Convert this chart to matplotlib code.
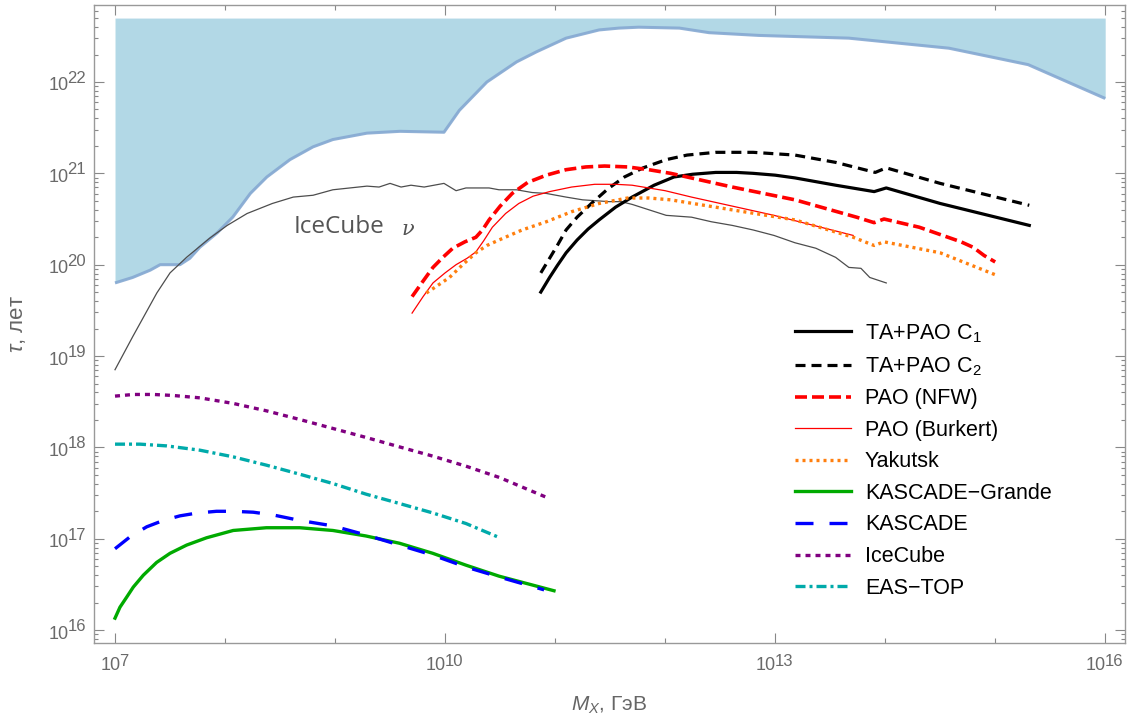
import numpy as np
import matplotlib
matplotlib.use('Agg')
import matplotlib.pyplot as plt
from matplotlib.ticker import FixedLocator, LogLocator, NullFormatter
from matplotlib.transforms import blended_transform_factory, ScaledTranslation

plt.rcParams['font.family'] = ['Liberation Sans', 'DejaVu Sans']
plt.rcParams['mathtext.fontset'] = 'custom'
plt.rcParams['mathtext.rm'] = 'Liberation Sans'
plt.rcParams['mathtext.it'] = 'Liberation Sans:italic'
plt.rcParams['lines.scale_dashes'] = False

# все значения: lg(M_X / ГэВ), lg(tau / лет)
ic_bound_x = [7.0, 7.16, 7.32, 7.41, 7.59, 7.68, 7.77, 7.93, 8.07, 8.23, 8.38, 8.59, 8.80, 8.98,
              9.29, 9.59, 9.99, 10.13, 10.38, 10.65, 10.83, 11.10, 11.40, 11.58, 11.76, 12.13,
              12.40, 12.85, 13.67, 14.58, 15.30, 16.0]
ic_bound_y = [19.80, 19.86, 19.94, 20.0, 20.0, 20.07, 20.19, 20.35, 20.52, 20.78, 20.96, 21.15, 21.29, 21.37,
              21.44, 21.46, 21.45, 21.69, 22.0, 22.22, 22.33, 22.48, 22.57, 22.59, 22.60, 22.59,
              22.54, 22.51, 22.48, 22.37, 22.19, 21.82]
ic_top = 22.70

nu_x = [7.0, 7.16, 7.38, 7.50, 7.65, 7.86, 8.02, 8.20, 8.43, 8.62, 8.80, 8.98, 9.29, 9.40, 9.50, 9.60,
        9.69, 9.81, 9.99, 10.10, 10.19, 10.40, 10.49, 10.65, 10.79, 10.92, 11.10, 11.25, 11.49, 11.60,
        11.70, 12.01, 12.24, 12.42, 12.61, 12.80, 12.99, 13.18, 13.37, 13.55, 13.67, 13.78, 13.86, 14.01]
nu_y = [18.85, 19.21, 19.69, 19.91, 20.08, 20.29, 20.43, 20.56, 20.67, 20.74, 20.76, 20.82, 20.86, 20.85, 20.89, 20.85,
        20.87, 20.85, 20.89, 20.81, 20.84, 20.84, 20.82, 20.82, 20.79, 20.78, 20.74, 20.71, 20.69, 20.69,
        20.66, 20.54, 20.52, 20.47, 20.43, 20.38, 20.32, 20.24, 20.18, 20.08, 19.97, 19.96, 19.86, 19.80]

c1_x = [10.87, 10.95, 11.02, 11.10, 11.20, 11.30, 11.40, 11.55, 11.70, 11.90, 12.08, 12.25, 12.46, 12.65,
        12.80, 13.0, 13.18, 13.55, 13.90, 14.01, 14.50, 15.31]
c1_y = [19.70, 19.86, 19.99, 20.13, 20.27, 20.39, 20.49, 20.63, 20.74, 20.87, 20.96, 20.99, 21.01, 21.01,
        21.00, 20.98, 20.95, 20.87, 20.80, 20.84, 20.67, 20.43]

c2_x = [10.87, 10.95, 11.02, 11.10, 11.20, 11.33, 11.48, 11.63, 11.80, 12.01, 12.20, 12.46, 12.80, 13.18,
        13.55, 13.91, 14.01, 14.50, 15.31]
c2_y = [19.91, 20.07, 20.21, 20.38, 20.52, 20.67, 20.83, 20.96, 21.06, 21.15, 21.20, 21.23, 21.23, 21.20,
        21.12, 21.01, 21.06, 20.89, 20.65]

nfw_x = [9.70, 9.80, 9.89, 9.98, 10.07, 10.18, 10.28, 10.34, 10.40, 10.50, 10.61, 10.75, 10.92, 11.10,
         11.28, 11.45, 11.66, 11.85, 12.05, 12.61, 13.18, 13.74, 13.90, 13.99, 14.31, 14.69, 14.80,
         14.90, 15.0]
nfw_y = [19.65, 19.82, 19.97, 20.08, 20.18, 20.25, 20.30, 20.38, 20.49, 20.64, 20.78, 20.90, 20.98, 21.04,
         21.07, 21.08, 21.07, 21.04, 21.00, 20.85, 20.71, 20.52, 20.46, 20.50, 20.41, 20.25, 20.19,
         20.10, 20.03]

bur_x = [9.70, 9.80, 9.89, 10.0, 10.10, 10.20, 10.28, 10.35, 10.43, 10.55, 10.67, 10.80, 10.95, 11.15,
         11.36, 11.55, 11.70, 12.0, 12.24, 12.99, 13.71]
bur_y = [19.47, 19.65, 19.80, 19.91, 20.00, 20.07, 20.14, 20.26, 20.41, 20.56, 20.67, 20.75, 20.80, 20.85,
         20.88, 20.88, 20.87, 20.81, 20.74, 20.54, 20.32]

yak_x = [9.83, 9.93, 10.04, 10.16, 10.28, 10.38, 10.49, 10.70, 10.92, 11.15, 11.40, 11.66, 11.85, 12.05,
         12.61, 13.18, 13.71, 13.90, 13.99, 14.50, 15.0]
yak_y = [19.69, 19.77, 19.86, 20.00, 20.13, 20.21, 20.27, 20.38, 20.47, 20.58, 20.67, 20.73, 20.73, 20.71,
         20.60, 20.49, 20.30, 20.21, 20.25, 20.13, 19.89]

kg_x = [7.0, 7.045, 7.106, 7.166, 7.257, 7.378, 7.50, 7.651, 7.832, 8.074, 8.376, 8.679, 8.98, 9.28,
        9.586, 9.888, 10.19, 10.49, 10.99]
kg_y = [16.13, 16.25, 16.36, 16.47, 16.60, 16.74, 16.84, 16.93, 17.01, 17.09, 17.12, 17.12, 17.09, 17.03,
        16.95, 16.84, 16.71, 16.59, 16.43]

kas_x = [7.0, 7.136, 7.288, 7.439, 7.59, 7.741, 7.923, 8.074, 8.256, 8.437, 8.679, 8.98, 9.283, 9.586,
         9.888, 10.19, 10.494, 10.90]
kas_y = [16.89, 17.02, 17.13, 17.20, 17.25, 17.28, 17.30, 17.30, 17.29, 17.26, 17.20, 17.14, 17.04, 16.93,
         16.82, 16.69, 16.58, 16.44]

icu_x = [7.0, 7.166, 7.348, 7.529, 7.771, 8.074, 8.376, 8.679, 8.98, 9.283, 9.586, 9.888, 10.19, 10.494,
         10.947]
icu_y = [18.561, 18.579, 18.579, 18.568, 18.542, 18.481, 18.40, 18.305, 18.207, 18.108, 18.005, 17.904,
         17.794, 17.67, 17.44]

eas_x = [7.0, 7.227, 7.469, 7.771, 8.074, 8.376, 8.679, 8.98, 9.283, 9.586, 9.888, 10.19, 10.478]
eas_y = [18.035, 18.035, 18.016, 17.969, 17.896, 17.805, 17.706, 17.604, 17.487, 17.385, 17.282, 17.166,
         17.02]

x_ticks = [7, 10, 13, 16]
y_ticks = [16, 17, 18, 19, 20, 21, 22]


def p(v):
    return np.power(10.0, np.array(v, dtype=float))


fig = plt.figure(figsize=(11.29, 7.19), dpi=100)
ax = fig.add_axes([94 / 1129, 1 - 643 / 719, 1031 / 1129, 638 / 719])

ax.fill_between(p(ic_bound_x), p(ic_bound_y), 10 ** ic_top, color='#b2d8e6', lw=0)
ax.plot(p(ic_bound_x), p(ic_bound_y), color='#86a9d2', lw=2.2, alpha=0.9, solid_capstyle='butt')
ax.plot(p(nu_x), p(nu_y), color='#4d4d4d', lw=0.9)

px = 0.72  # pt на пиксель
ax.plot(p(c1_x), p(c1_y), color='black', lw=2.3, label='TA+PAO C$_1$')
ax.plot(p(c2_x), p(c2_y), color='black', lw=2.3, dashes=(10 * px, 6 * px), label='TA+PAO C$_2$')
ax.plot(p(nfw_x), p(nfw_y), color='#ff0000', lw=2.6, dashes=(12 * px, 5 * px), label='PAO (NFW)')
ax.plot(p(bur_x), p(bur_y), color='#ff0000', lw=0.9, label='PAO (Burkert)')
ax.plot(p(yak_x), p(yak_y), color='#ff7f0e', lw=2.4, dashes=(3 * px, 4 * px), label='Yakutsk')
ax.plot(p(kg_x), p(kg_y), color='#00aa00', lw=2.4, label='KASCADE\u2212Grande')
ax.plot(p(kas_x), p(kas_y), color='#0000ff', lw=2.4, dashes=(18 * px, 16 * px), label='KASCADE')
ax.plot(p(icu_x), p(icu_y), color='#800080', lw=2.4, dashes=(5 * px, 5 * px), label='IceCube')
ax.plot(p(eas_x), p(eas_y), color='#00aaaa', lw=2.4, dashes=(10 * px, 4 * px, 3 * px, 4 * px), label='EAS\u2212TOP')

ax.text(10 ** 9.04, 10 ** 20.41, 'IceCube', family='Open Sans', fontsize=17.5, color='#555555',
        ha='center', va='center')
ax.text(10 ** 9.66, 10 ** 20.39, '\u03bd', family='DejaVu Serif', style='italic', fontsize=15,
        color='#555555', ha='center', va='center')

ax.set_xscale('log')
ax.set_yscale('log')
ax.set_xlim(10 ** 6.809, 10 ** 16.18)
ax.set_ylim(10 ** 15.858, 10 ** 22.843)

ax.xaxis.set_major_locator(FixedLocator(p(x_ticks)))
ax.xaxis.set_minor_locator(FixedLocator([1e8, 1e9, 1e11, 1e12, 1e14, 1e15]))
ax.yaxis.set_major_locator(FixedLocator(p(y_ticks)))
ax.yaxis.set_minor_locator(LogLocator(base=10, subs=np.arange(2, 10), numticks=30))
for a in (ax.xaxis, ax.yaxis):
    a.set_major_formatter(NullFormatter())
    a.set_minor_formatter(NullFormatter())

ax.tick_params(which='both', direction='in', top=True, right=True, color='#888888', width=0.8)
ax.tick_params(which='major', length=7.5)
ax.tick_params(axis='x', which='minor', length=3.8)
ax.tick_params(axis='y', which='minor', length=3.2)
for s in ax.spines.values():
    s.set_color('#999999')
    s.set_linewidth(1.0)


# подписи делений в стиле 10 с крупной степенью
def off(dx, dy):
    return ScaledTranslation(dx / 100, dy / 100, fig.dpi_scale_trans)


lab_col = '#6a6a6a'
fs_base, fs_exp = 13, 12
w_digit_base = 0.556 * fs_base * 100 / 72
w_digit_exp = 0.556 * fs_exp * 100 / 72
tx = blended_transform_factory(ax.transData, ax.transAxes)
ty = blended_transform_factory(ax.transAxes, ax.transData)
for k in x_ticks:
    e = str(k)
    w = 2 * w_digit_base + len(e) * w_digit_exp
    ax.text(10.0 ** k, 0, '10', fontsize=fs_base, color=lab_col, ha='left', va='baseline',
            transform=tx + off(-w / 2, -27))
    ax.text(10.0 ** k, 0, e, fontsize=fs_exp, color=lab_col, ha='left', va='baseline',
            transform=tx + off(-w / 2 + 2 * w_digit_base - 1.5, -22.5))
for k in y_ticks:
    ax.text(0, 10.0 ** k, '10', fontsize=fs_base, color=lab_col, ha='right', va='baseline',
            transform=ty + off(-25, -8.5))
    ax.text(0, 10.0 ** k, str(k), fontsize=fs_exp, color=lab_col, ha='left', va='baseline',
            transform=ty + off(-26.5, -1))

ax.set_xlabel('$M_X$, ГэВ', fontsize=15, color='#666666', va='center')
ax.xaxis.set_label_coords(0.5, -0.097)
ax.set_ylabel(r'$\tau$, лет', fontsize=16, color='#666666', va='center')
ax.yaxis.set_label_coords(-0.074, 0.5)

ax.legend(loc='upper left', bbox_to_anchor=(795 / 1129, 1 - 322 / 719), bbox_transform=fig.transFigure,
          frameon=False, fontsize=15.5, handlelength=2.6, handletextpad=0.65, labelspacing=0.49,
          borderpad=0, borderaxespad=0)

fig.savefig('out.png', dpi=100)
